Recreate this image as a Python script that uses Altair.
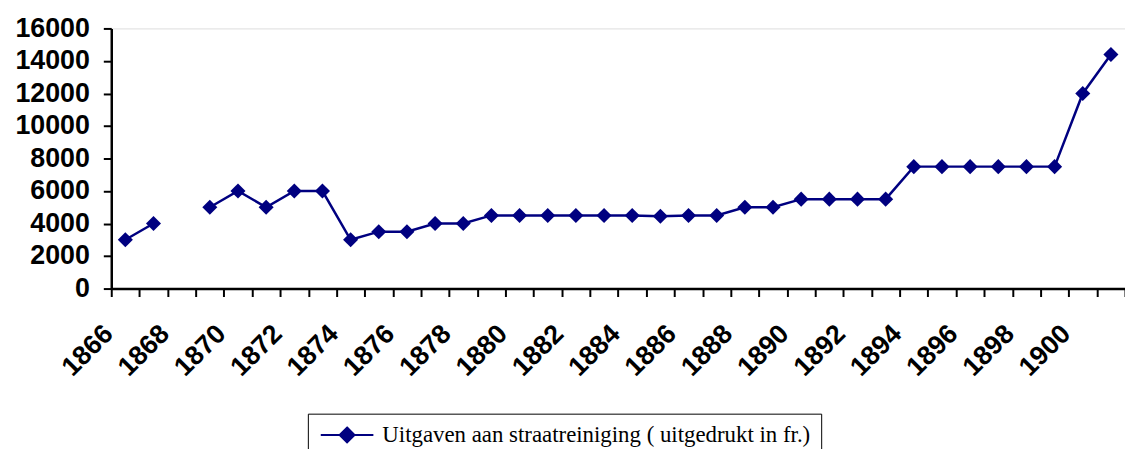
import altair as alt
import pandas as pd

years = [str(y) for y in range(1866, 1902)]
values = [3000, 4000, None, 5000, 6000, 5000, 6000, 6000, 3000, 3500,
          3500, 4000, 4000, 4500, 4500, 4500, 4500, 4500, 4500, 4450,
          4500, 4500, 5000, 5000, 5500, 5500, 5500, 5500, 7500, 7500,
          7500, 7500, 7500, 7500, 12000, 14400]
series_name = "Uitgaven aan straatreiniging ( uitgedrukt in fr.)"

df = pd.DataFrame({"year": years, "value": values, "series": series_name})

navy = "#000080"

x = alt.X("year:O", sort=years,
          scale=alt.Scale(type="band", paddingInner=0, paddingOuter=0),
          axis=alt.Axis(title=None, labelAngle=-45, labelAlign="right", labelBaseline="middle",
                        labelExpr="toNumber(datum.value) % 2 == 0 ? datum.value : ''",
                        labelFont="Liberation Sans", labelFontWeight="bold", labelFontSize=27,
                        labelColor="black", labelPadding=33, labelOffset=-17,
                        tickBand="extent", tickSize=8, tickColor="black", tickWidth=2,
                        domainColor="black", domainWidth=2.5, labelOverlap=False,
                        labelFlush=False, labelBound=False))
y = alt.Y("value:Q", scale=alt.Scale(domain=[0, 16000], nice=False),
          axis=alt.Axis(title=None, values=list(range(0, 16001, 2000)), grid=False, format="d",
                        labelFont="Liberation Sans", labelFontWeight="bold", labelFontSize=27,
                        labelColor="black", labelPadding=14, tickSize=8, tickColor="black",
                        tickWidth=2, domainColor="black", domainWidth=2.5))

color = alt.Color("series:N", scale=alt.Scale(range=[navy]),
                  legend=alt.Legend(title=None, orient="none", legendX=198, legendY=388,
                                    strokeColor="black", padding=10, fillColor="white",
                                    labelFont="Liberation Serif", labelFontSize=23,
                                    labelColor="black", labelLimit=700, labelOffset=24,
                                    symbolType="M-2.65,0L2.65,0M0,-0.75L0.75,0L0,0.75L-0.75,0Z",
                                    symbolSize=400, symbolStrokeWidth=2, symbolOffset=18,
                                    symbolFillColor=navy, symbolStrokeColor=navy))

line = alt.Chart(df).mark_line(color=navy, strokeWidth=2.5).encode(x=x, y=y, color=color)

points = alt.Chart(df).mark_point(shape="diamond", filled=True, size=230, opacity=1,
                                  color=navy).encode(x=x, y=y)

chart = alt.layer(line, points).properties(
    width=1021, height=262,
    autosize=alt.AutoSizeParams(type="none"),
    padding={"left": 104, "top": 19, "right": 0, "bottom": 160},
).configure_view(fill="#C0C0C0", stroke="#808080", strokeWidth=2).configure(background="white")

chart.save("out.html", embed_options={"renderer": "svg", "actions": False})
